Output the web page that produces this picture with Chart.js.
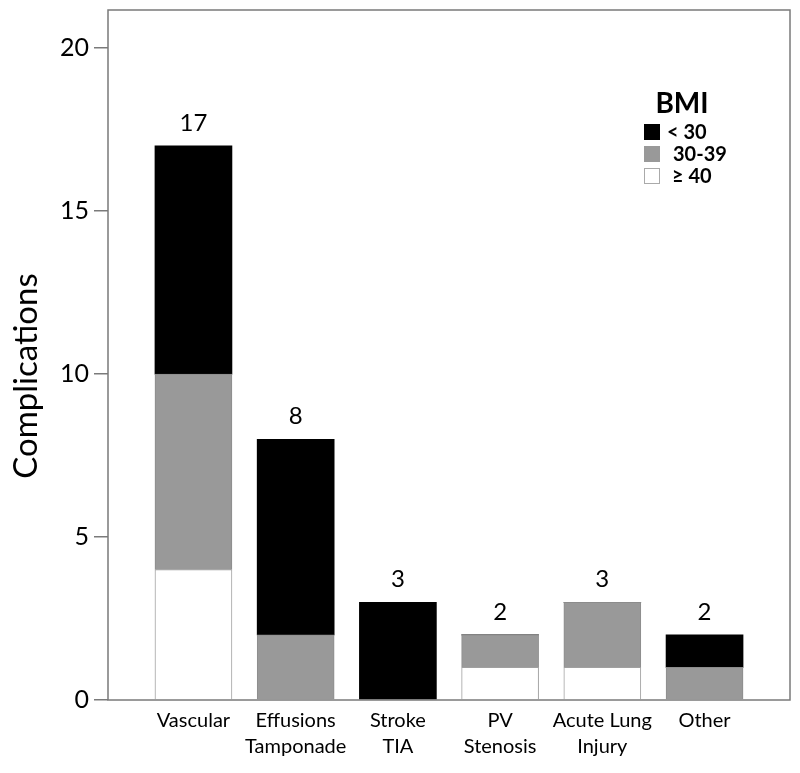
<!DOCTYPE html>
<html>
<head>
<meta charset="utf-8">
<script src="https://cdn.jsdelivr.net/npm/chart.js@4.4.0/dist/chart.umd.min.js"></script>
<style>
    html, body { margin: 0; padding: 0; background: #fff; }
    canvas { display: block; }
</style>
</head>
<body>
<canvas id="chart" width="800" height="773"></canvas>
<script>
const categories = [['Vascular'], ['Effusions', 'Tamponade'], ['Stroke', 'TIA'], ['PV', 'Stenosis'], ['Acute Lung', 'Injury'], ['Other']];
const bmiOver40 = [4, 0, 0, 1, 1, 0];
const bmi30to39 = [6, 2, 0, 1, 2, 1];
const bmiUnder30 = [7, 6, 3, 0, 0, 1];
const yTicks = [0, 5, 10, 15, 20];
const yTitle = 'Complications';

const FONT = 'Lato, "Open Sans", sans-serif';
const AXIS = '#7a7a7a';

const toPoints = arr => arr.map((v, i) => ({ x: i, y: v }));

// totals above each stack + frame + legend + y title
const extras = {
    id: 'extras',
    afterDatasetsDraw(chart) {
        const { ctx, chartArea, scales: { x, y } } = chart;
        ctx.save();
        ctx.fillStyle = '#000';
        ctx.font = '24px ' + FONT;
        ctx.textAlign = 'center';
        ctx.textBaseline = 'middle';
        categories.forEach((_, i) => {
            const total = bmiOver40[i] + bmi30to39[i] + bmiUnder30[i];
            ctx.fillText(String(total), x.getPixelForValue(i), y.getPixelForValue(total) - 23);
        });

        // frame
        ctx.strokeStyle = AXIS;
        ctx.lineWidth = 1.5;
        ctx.strokeRect(chartArea.left, chartArea.top, chartArea.right - chartArea.left, chartArea.bottom - chartArea.top);

        // legend
        const lx = 644, ly = 124;
        ctx.font = 'bold 28px ' + FONT;
        ctx.fillText('BMI', 682, 104);
        ctx.font = 'bold 20px ' + FONT;
        ctx.textAlign = 'left';
        const items = chart.data.datasets.slice().reverse();
        const offs = [0, 6, 5];
        items.forEach((ds, k) => {
            const by = ly + k * 22;
            ctx.fillStyle = ds.backgroundColor;
            ctx.fillRect(lx, by, 16, 16);
            ctx.strokeStyle = '#aaa';
            ctx.lineWidth = 1;
            if (ds.backgroundColor === '#ffffff') ctx.strokeRect(lx + 0.5, by + 0.5, 15, 15);
            ctx.fillStyle = '#000';
            ctx.fillText(ds.label, lx + 23 + offs[k], by + 9);
        });

        // y axis title (sits a bit below the middle in the original)
        ctx.translate(26, 376);
        ctx.rotate(-Math.PI / 2);
        ctx.textAlign = 'center';
        ctx.font = '33px ' + FONT;
        ctx.fillText(yTitle, 0, 0);
        ctx.restore();
    }
};

new Chart(document.getElementById('chart'), {
    type: 'bar',
    data: {
        datasets: [
            { label: '≥ 40', data: toPoints(bmiOver40), backgroundColor: '#ffffff', borderColor: '#a0a0a0', borderWidth: 1 },
            { label: '30-39', data: toPoints(bmi30to39), backgroundColor: '#999999', borderColor: '#8c8c8c', borderWidth: 1 },
            { label: '< 30', data: toPoints(bmiUnder30), backgroundColor: '#000000', borderColor: '#000000', borderWidth: 0 },
        ],
    },
    options: {
        responsive: false,
        animation: false,
        layout: { padding: { top: 10, right: 10, left: 0, bottom: 0 } },
        barThickness: 77,
        plugins: {
            legend: { display: false },
            tooltip: { enabled: false },
        },
        scales: {
            x: {
                type: 'linear',
                stacked: true,
                offset: false,
                min: -0.836,
                max: 5.836,
                afterBuildTicks: scale => { scale.ticks = categories.map((_, i) => ({ value: i })); },
                afterFit: scale => { scale.height = 73; scale.paddingLeft = 0; scale.paddingRight = 0; },
                grid: { display: false, drawTicks: false, offset: false },
                border: { display: false },
                ticks: {
                    padding: 7,
                    color: '#000',
                    font: { family: FONT, size: 20, lineHeight: 1.32 },
                    maxRotation: 0,
                    autoSkip: false,
                    callback: v => categories[v],
                },
            },
            y: {
                stacked: true,
                min: 0,
                max: 21.17,
                afterBuildTicks: scale => { scale.ticks = yTicks.map(v => ({ value: v })); },
                afterFit: scale => { scale.width = 108; scale.paddingTop = 0; scale.paddingBottom = 0; },
                grid: { drawOnChartArea: false, drawTicks: true, tickLength: 14, color: AXIS, lineWidth: 1.5 },
                border: { display: false },
                ticks: {
                    padding: 5,
                    color: '#000',
                    font: { family: FONT, size: 25 },
                },
            },
        },
    },
    plugins: [extras],
});
</script>
</body>
</html>
